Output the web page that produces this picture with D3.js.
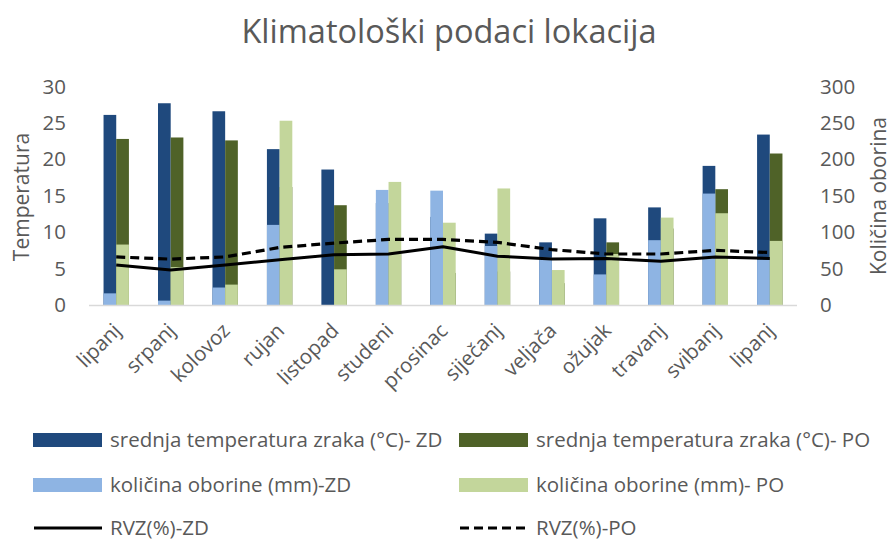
<!DOCTYPE html>
<html>
<head>
<meta charset="utf-8">
<script src="https://cdn.jsdelivr.net/npm/d3@7"></script>
<style>
    body { margin: 0; background: #fff; }
    text { font-family: "Open Sans", sans-serif; fill: #595959; }
</style>
</head>
<body>
<div id="chart"></div>
<script>
// data
var months = ["lipanj", "srpanj", "kolovoz", "rujan", "listopad", "studeni", "prosinac",
    "siječanj", "veljača", "ožujak", "travanj", "svibanj", "lipanj"];
var tempZD = [26.1, 27.7, 26.6, 21.4, 18.6, 14.0, 12.1, 9.8, 8.6, 11.9, 13.4, 19.1, 23.4];
var tempPO = [22.8, 23.0, 22.6, 16.2, 13.7, 7.0, 4.4, 4.6, 3.0, 8.6, 10.5, 15.9, 20.8];
var rainZD = [16, 6, 24, 110, 0, 158, 157, 81, 65, 42, 89, 153, 62];
var rainPO = [83, 52, 28, 253, 49, 169, 113, 160, 48, 70, 120, 126, 88];
var rvzZD = [55, 48, 55, 62, 69, 70, 80, 67, 63, 64, 60, 66, 64];
var rvzPO = [66, 63, 66, 79, 85, 90, 90, 86, 76, 70, 70, 75, 72];
var leftTicks = [0, 5, 10, 15, 20, 25, 30];
var rightTicks = [0, 50, 100, 150, 200, 250, 300];

/**
 * Constructor for the climate chart
 */
function ClimateChart(){
    var self = this;
    self.init();
};

/**
 * Creates the svg and the scales
 */
ClimateChart.prototype.init = function(){
    var self = this;
    self.width = 892;
    self.height = 541;
    self.plot = {left: 89, right: 797, top: 86.5, bottom: 305};

    self.svg = d3.select("#chart").append("svg")
        .attr("width", self.width)
        .attr("height", self.height);

    self.x = d3.scaleBand()
        .domain(d3.range(months.length))
        .range([self.plot.left, self.plot.right])
        .paddingInner(0.534)
        .paddingOuter(0.267);

    self.xSub = d3.scaleBand()
        .domain(["ZD", "PO"])
        .range([0, self.x.bandwidth()]);

    self.yLeft = d3.scaleLinear().domain([0, 30]).range([self.plot.bottom, self.plot.top]);
    self.yRight = d3.scaleLinear().domain([0, 300]).range([self.plot.bottom, self.plot.top]);
};

/**
 * Draws bars, lines, axes and legend
 */
ClimateChart.prototype.update = function(){
    var self = this;
    var svg = self.svg;

    svg.append("text")
        .attr("x", 449)
        .attr("y", 43)
        .attr("text-anchor", "middle")
        .style("font-size", "32.5px")
        .text("Klimatološki podaci lokacija");

    //primary axis bars first, the precipitation bars sit on top of them
    var barSeries = [
        {values: tempZD, sub: "ZD", y: self.yLeft, color: "#1F497D"},
        {values: tempPO, sub: "PO", y: self.yLeft, color: "#4F6228"},
        {values: rainZD, sub: "ZD", y: self.yRight, color: "#8EB4E3"},
        {values: rainPO, sub: "PO", y: self.yRight, color: "#C3D69B"}
    ];

    barSeries.forEach(function(s){
        svg.append("g").selectAll("rect")
            .data(s.values)
            .enter()
            .append("rect")
            .attr("x", function(d, i){ return self.x(i) + self.xSub(s.sub); })
            .attr("width", self.xSub.bandwidth())
            .attr("y", function(d){ return s.y(d); })
            .attr("height", function(d){ return self.plot.bottom - s.y(d); })
            .attr("fill", s.color);
    });

    //x axis line
    svg.append("line")
        .attr("x1", self.plot.left)
        .attr("x2", self.plot.right)
        .attr("y1", self.plot.bottom + 0.5)
        .attr("y2", self.plot.bottom + 0.5)
        .attr("stroke", "#D9D9D9")
        .attr("stroke-width", 1.5);

    var line = d3.line()
        .x(function(d, i){ return self.x(i) + self.x.bandwidth() / 2; })
        .y(function(d){ return self.yRight(d); });

    svg.append("path")
        .datum(rvzZD)
        .attr("d", line)
        .attr("fill", "none")
        .attr("stroke", "#000")
        .attr("stroke-width", 3)
        .attr("stroke-linejoin", "round");

    svg.append("path")
        .datum(rvzPO)
        .attr("d", line)
        .attr("fill", "none")
        .attr("stroke", "#000")
        .attr("stroke-width", 3.2)
        .attr("stroke-dasharray", "9,5");

    //left axis
    var leftAxis = svg.append("g")
        .attr("transform", "translate(" + 66 + ",0)")
        .call(d3.axisLeft(self.yLeft).tickValues(leftTicks).tickSize(0).tickPadding(0));
    leftAxis.select(".domain").remove();
    leftAxis.selectAll("text")
        .style("font-size", "20.5px")
        .attr("fill", "#595959")
        .style("font-family", "Open Sans");

    var rightAxis = svg.append("g")
        .attr("transform", "translate(" + 820 + ",0)")
        .call(d3.axisRight(self.yRight).tickValues(rightTicks).tickSize(0).tickPadding(0));
    rightAxis.select(".domain").remove();
    rightAxis.selectAll("text")
        .style("font-size", "20.5px")
        .attr("fill", "#595959")
        .style("font-family", "Open Sans");

    svg.append("text")
        .attr("transform", "translate(29,197) rotate(-90)")
        .attr("text-anchor", "middle")
        .style("font-size", "21px")
        .text("Temperatura");

    svg.append("text")
        .attr("transform", "translate(886,196) rotate(-90)")
        .attr("text-anchor", "middle")
        .style("font-size", "21px")
        .text("Količina oborina");

    //category labels
    svg.append("g").selectAll("text")
        .data(months)
        .enter()
        .append("text")
        .attr("transform", function(d, i){
            var cx = self.x(i) + self.x.bandwidth() / 2;
            return "translate(" + (cx + 6) + "," + 332 + ") rotate(-45)";
        })
        .attr("text-anchor", "end")
        .style("font-size", "20.5px")
        .text(function(d){ return d; });

    //legend
    var legend = [
        {label: "srednja temperatura zraka (°C)- ZD", color: "#1F497D", type: "bar", x: 33, y: 440},
        {label: "srednja temperatura zraka (°C)- PO", color: "#4F6228", type: "bar", x: 459, y: 440},
        {label: "količina oborine (mm)-ZD", color: "#8EB4E3", type: "bar", x: 33, y: 485},
        {label: "količina oborine (mm)- PO", color: "#C3D69B", type: "bar", x: 459, y: 485},
        {label: "RVZ(%)-ZD", color: "#000", type: "line", x: 33, y: 528},
        {label: "RVZ(%)-PO", color: "#000", type: "dash", x: 459, y: 528}
    ];

    var items = svg.append("g").selectAll("g")
        .data(legend)
        .enter()
        .append("g")
        .attr("transform", function(d){ return "translate(" + d.x + "," + d.y + ")"; });

    items.filter(function(d){ return d.type === "bar"; })
        .append("rect")
        .attr("x", 0)
        .attr("y", -7)
        .attr("width", 69)
        .attr("height", 14)
        .attr("fill", function(d){ return d.color; });

    items.filter(function(d){ return d.type !== "bar"; })
        .append("line")
        .attr("x1", 1)
        .attr("x2", 69)
        .attr("y1", 0)
        .attr("y2", 0)
        .attr("stroke", "#000")
        .attr("stroke-width", 3.2)
        .attr("stroke-dasharray", function(d){ return d.type === "dash" ? "9,5" : null; });

    items.append("text")
        .attr("x", 77)
        .attr("y", 0)
        .attr("dy", "0.35em")
        .style("font-size", "20.5px")
        .text(function(d){ return d.label; });
};

var chart = new ClimateChart();
chart.update();
</script>
</body>
</html>
